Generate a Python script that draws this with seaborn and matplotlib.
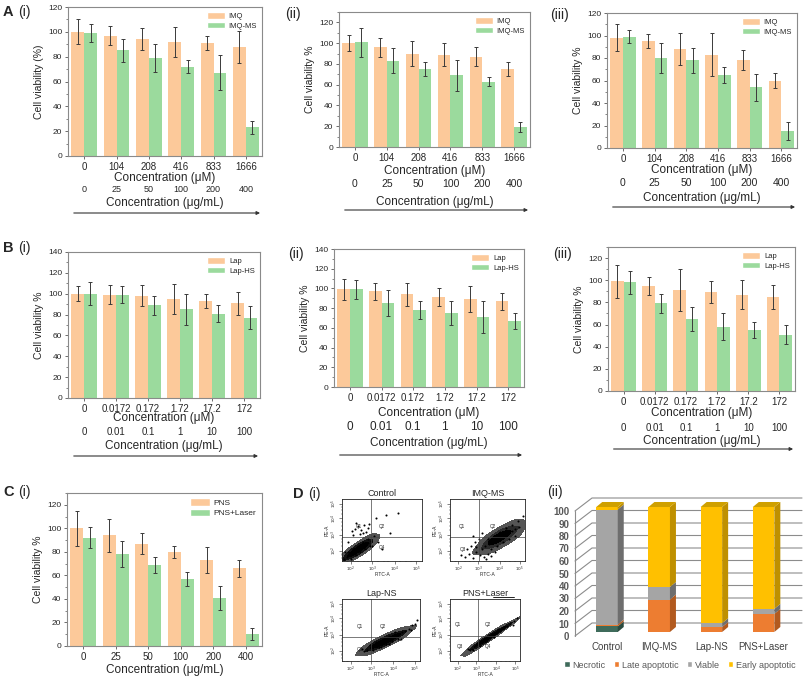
import numpy as np
import pandas as pd
import matplotlib
matplotlib.use("Agg")
import matplotlib.pyplot as plt
import seaborn as sns
from matplotlib.patches import Patch, Polygon
from matplotlib.ticker import AutoMinorLocator
from matplotlib.colors import ListedColormap

# ---------------- data ----------------
A_um = ['0', '104', '208', '416', '833', '1666']
A_ug = ['0', '25', '50', '100', '200', '400']
A1_imq = [100, 97, 94, 92, 91, 88]
A1_imq_err = [10, 7.5, 9, 12, 6, 13]
A1_ms = [99, 85, 79, 72, 67, 23]
A1_ms_err = [7, 9, 11, 5, 14, 5]
A2_imq = [100, 96, 90, 89, 87, 75]
A2_imq_err = [7.5, 9, 12, 11, 9, 7]
A2_ms = [101, 83, 75, 69, 63, 19]
A2_ms_err = [14, 12, 7, 15, 4, 5]
A3_imq = [98, 95, 88, 83, 78, 60]
A3_imq_err = [12, 6.5, 14.5, 19, 9, 7]
A3_ms = [99, 80, 78, 65, 54, 15]
A3_ms_err = [6, 13, 11, 7, 12, 8]

B_um = ['0', '0.0172', '0.172', '1.72', '17.2', '172']
B_ug = ['0', '0.01', '0.1', '1', '10', '100']
B1_lap = [100, 99, 98, 95, 93, 91]
B1_lap_err = [7, 9, 10, 14, 7, 11]
B1_hs = [100, 99, 89, 85, 81, 77]
B1_hs_err = [11, 8, 9, 15, 8.5, 11]
B2_lap = [99, 97, 94, 91, 89, 87]
B2_lap_err = [11, 9, 12, 9, 13, 8.5]
B2_hs = [99, 85, 78, 75, 71, 67]
B2_hs_err = [9.5, 13, 9, 12, 16, 8]
B3_lap = [99, 95, 91, 89, 87, 85]
B3_lap_err = [15, 8, 19, 10, 13, 11]
B3_hs = [98, 79, 65, 58, 55, 51]
B3_hs_err = [10, 9, 11, 12, 7, 9]

C_ug = ['0', '25', '50', '100', '200', '400']
C_pns = [100, 94, 87, 80, 73, 66]
C_pns_err = [15, 14, 9, 5, 11, 7]
C_laser = [92, 78, 69, 57, 41, 10]
C_laser_err = [9, 11, 7, 6, 10, 5]

# flow cytometry clouds (axis fractions)
ctrl_dense_x = [0.03, 0.06, 0.09, 0.12, 0.15, 0.18, 0.21, 0.24, 0.27, 0.30, 0.33, 0.36,
                0.08, 0.14, 0.20, 0.26, 0.32, 0.11, 0.17, 0.23, 0.29, 0.35]
ctrl_dense_y = [0.04, 0.06, 0.09, 0.12, 0.14, 0.17, 0.19, 0.22, 0.24, 0.27, 0.29, 0.32,
                0.15, 0.20, 0.25, 0.30, 0.36, 0.04, 0.09, 0.14, 0.19, 0.24]
ctrl_sparse_x = [0.12, 0.16, 0.20, 0.24, 0.28, 0.32, 0.18, 0.26, 0.30, 0.14, 0.22, 0.34,
                 0.40, 0.45, 0.50, 0.60, 0.42, 0.55, 0.70, 0.38, 0.08, 0.04]
ctrl_sparse_y = [0.48, 0.52, 0.56, 0.50, 0.58, 0.53, 0.62, 0.45, 0.47, 0.42, 0.44, 0.60,
                 0.40, 0.30, 0.20, 0.45, 0.70, 0.75, 0.78, 0.25, 0.30, 0.15]
imq_dense_x = [0.42, 0.47, 0.52, 0.57, 0.62, 0.67, 0.72, 0.77, 0.82, 0.87, 0.92,
               0.50, 0.58, 0.66, 0.74, 0.82, 0.54, 0.62, 0.70, 0.78, 0.86,
               0.60, 0.65, 0.70, 0.68, 0.63]
imq_dense_y = [0.20, 0.24, 0.27, 0.31, 0.34, 0.38, 0.41, 0.45, 0.48, 0.52, 0.55,
               0.36, 0.41, 0.47, 0.53, 0.58, 0.19, 0.24, 0.30, 0.35, 0.41,
               0.35, 0.38, 0.42, 0.36, 0.40]
imq_sparse_x = [0.20, 0.25, 0.30, 0.35, 0.40, 0.45, 0.28, 0.33, 0.38, 0.50, 0.55, 0.60,
                0.22, 0.30, 0.42, 0.48, 0.15, 0.97, 0.90, 0.35]
imq_sparse_y = [0.07, 0.12, 0.05, 0.15, 0.10, 0.06, 0.25, 0.30, 0.35, 0.12, 0.08, 0.15,
                0.20, 0.40, 0.45, 0.03, 0.10, 0.72, 0.65, 0.22]
lap_dense_x = [0.32, 0.37, 0.42, 0.47, 0.52, 0.57, 0.62, 0.67, 0.72, 0.77, 0.81,
               0.36, 0.44, 0.52, 0.60, 0.68, 0.40, 0.48, 0.56, 0.64, 0.72]
lap_dense_y = [0.18, 0.21, 0.24, 0.27, 0.30, 0.33, 0.36, 0.39, 0.42, 0.46, 0.48,
               0.26, 0.31, 0.36, 0.41, 0.46, 0.17, 0.22, 0.27, 0.32, 0.36]
lap_sparse_x = [0.86, 0.90, 0.96, 0.88, 0.28, 0.25, 0.50, 0.60, 0.75, 0.93]
lap_sparse_y = [0.52, 0.58, 0.66, 0.50, 0.16, 0.20, 0.22, 0.28, 0.36, 0.60]
pns_dense_x = [0.31, 0.36, 0.41, 0.46, 0.51, 0.56, 0.61, 0.66, 0.71, 0.76, 0.81, 0.86,
               0.38, 0.48, 0.58, 0.68, 0.33, 0.43, 0.53, 0.63]
pns_dense_y = [0.20, 0.24, 0.27, 0.31, 0.34, 0.38, 0.42, 0.45, 0.49, 0.52, 0.56, 0.60,
               0.29, 0.36, 0.43, 0.51, 0.17, 0.25, 0.32, 0.39]
pns_sparse_x = [0.92, 0.95, 0.28, 0.25, 0.90, 0.50]
pns_sparse_y = [0.64, 0.70, 0.17, 0.20, 0.58, 0.30]

# apoptosis stacked bars
D_groups = ['Control', 'IMQ-MS', 'Lap-NS', 'PNS+Laser']
D_necrotic = [4.5, 0, 0, 0]
D_late = [1.5, 26, 4, 14.5]
D_viable = [92, 10, 3, 4]
D_early = [2, 64, 93, 81.5]
D_labels = ['Necrotic', 'Late apoptotic', 'Viable', 'Early apoptotic']

# ---------------- style ----------------
sns.set_style("ticks")
plt.rcParams['font.family'] = ['Liberation Sans', 'DejaVu Sans']
plt.rcParams['mathtext.fontset'] = 'dejavusans'

ORANGE = '#FCC99A'
GREEN = '#9BDA9D'
W, H = 805, 680
fig = plt.figure(figsize=(W / 100, H / 100), dpi=100)


def px(box):
    l, t, r, b = box
    return [l / W, 1 - b / H, (r - l) / W, (b - t) / H]


def bar_panel(box, cats, v1, e1, v2, e2, names, ymax, ytop, ylabel,
              ug=None, um_off=22, num_off=34, ug_off=47, arr_off=57,
              num_fs=7, xlabel=None, leg_fs=5.5):
    l, t, r, b = box
    hpx = b - t
    ax = fig.add_axes(px(box))
    n = len(cats)
    df = pd.DataFrame({'cat': cats + cats,
                       'grp': [names[0]] * n + [names[1]] * n,
                       'val': v1 + v2})
    sns.barplot(data=df, x='cat', y='val', hue='grp', order=cats, hue_order=names,
                palette=[ORANGE, GREEN], saturation=1, errorbar=None, width=0.8,
                ax=ax, legend=False, linewidth=0)
    for cont, err in zip(ax.containers, (e1, e2)):
        xs = [p.get_x() + p.get_width() / 2 for p in cont]
        hs = [p.get_height() for p in cont]
        ax.errorbar(xs, hs, yerr=err, fmt='none', ecolor='#3a3a3a',
                    elinewidth=0.7, capsize=1.5, capthick=0.7, zorder=5)
    ax.set_xlim(-0.5, n - 0.5)
    ax.set_ylim(0, ymax)
    ax.set_yticks(list(range(0, ytop + 1, 20)))
    ax.yaxis.set_minor_locator(AutoMinorLocator(2))
    ax.set_xlabel('')
    ax.set_ylabel(ylabel, fontsize=7.5, labelpad=3)
    ax.tick_params(axis='y', labelsize=6, length=2.5, width=0.6, pad=1.5, color='#555')
    ax.tick_params(axis='y', which='minor', length=1.5, width=0.5, color='#555')
    ax.tick_params(axis='x', labelsize=7, length=2.5, width=0.6, pad=1.5, color='#555')
    for s in ax.spines.values():
        s.set_color('#8a8a8a')
        s.set_linewidth(0.8)
    handles = [Patch(facecolor=ORANGE, label=names[0]),
               Patch(facecolor=GREEN, label=names[1])]
    ax.legend(handles=handles, loc='upper right', frameon=False, fontsize=leg_fs,
              handlelength=2.4, handleheight=1.0, labelspacing=0.2,
              borderaxespad=0.25, handletextpad=0.5)
    tr = ax.get_xaxis_transform()
    if xlabel is not None:
        ax.text((n - 1) / 2, -xlabel / hpx, 'Concentration (μg/mL)', transform=tr,
                ha='center', va='center', fontsize=8.5)
    else:
        ax.text((n - 1) / 2, -um_off / hpx, 'Concentration (μM)', transform=tr,
                ha='center', va='center', fontsize=8.5)
        for i, lab in enumerate(ug):
            ax.text(i, -num_off / hpx, lab, transform=tr, ha='center', va='center',
                    fontsize=num_fs)
        ax.text((n - 1) / 2, -ug_off / hpx, 'Concentration (μg/mL)', transform=tr,
                ha='center', va='center', fontsize=8.5)
        ax.annotate('', xy=(0.99, -arr_off / hpx), xytext=(0.03, -arr_off / hpx),
                    xycoords='axes fraction', textcoords='axes fraction',
                    arrowprops=dict(arrowstyle='-|>', lw=0.8, color='#333',
                                    mutation_scale=5, shrinkA=0, shrinkB=0))
    return ax


# ---- row A ----
bar_panel((68, 7, 262, 156), A_um, A1_imq, A1_imq_err, A1_ms, A1_ms_err,
          ['IMQ', 'IMQ-MS'], 120, 120, 'Cell viability (%)', ug=A_ug,
          um_off=22, num_off=34, ug_off=47, arr_off=57, num_fs=6.5)
bar_panel((339, 12, 530, 147), A_um, A2_imq, A2_imq_err, A2_ms, A2_ms_err,
          ['IMQ', 'IMQ-MS'], 130, 120, 'Cell viability %', ug=A_ug,
          um_off=24, num_off=37, ug_off=55, arr_off=63, num_fs=7.5)
bar_panel((607, 13, 797, 148), A_um, A3_imq, A3_imq_err, A3_ms, A3_ms_err,
          ['IMQ', 'IMQ-MS'], 120, 120, 'Cell viability %', ug=A_ug,
          um_off=22, num_off=35, ug_off=50, arr_off=59, num_fs=7.5)
# ---- row B ----
bar_panel((68, 252, 260, 398), B_um, B1_lap, B1_lap_err, B1_hs, B1_hs_err,
          ['Lap', 'Lap-HS'], 140, 140, 'Cell viability %', ug=B_ug,
          um_off=20, num_off=34, ug_off=48, arr_off=58, num_fs=7)
bar_panel((334, 249, 524, 387), B_um, B2_lap, B2_lap_err, B2_hs, B2_hs_err,
          ['Lap', 'Lap-HS'], 140, 140, 'Cell viability %', ug=B_ug,
          um_off=26, num_off=40, ug_off=56, arr_off=68, num_fs=8.5)
bar_panel((608, 247, 795, 391), B_um, B3_lap, B3_lap_err, B3_hs, B3_hs_err,
          ['Lap', 'Lap-HS'], 130, 120, 'Cell viability %', ug=B_ug,
          um_off=22, num_off=37, ug_off=50, arr_off=58, num_fs=7)
# ---- C ----
bar_panel((67, 493, 262, 646), C_ug, C_pns, C_pns_err, C_laser, C_laser_err,
          ['PNS', 'PNS+Laser'], 130, 120, 'Cell viability %', xlabel=24, leg_fs=6)

FLOW_CMAP = ListedColormap(['#555555', '#2a2a2a', '#111111', '#000000'])


# ---- D(i) flow cytometry ----
def flow_panel(box, title, dx, dy, sx, sy, qx, qy, qlabels, bw=1.2, underline=None):
    ax = fig.add_axes(px(box))
    sns.kdeplot(x=dx, y=dy, fill=True, cmap=FLOW_CMAP, levels=4, thresh=0.07,
                bw_adjust=bw, ax=ax)
    sns.scatterplot(x=dx + sx, y=dy + sy, s=2.2, color='black', linewidth=0, ax=ax)
    ax.axvline(qx, color='#444', lw=0.5)
    ax.axhline(qy, color='#444', lw=0.5)
    ax.set_xlim(0, 1)
    ax.set_ylim(0, 1)
    ax.set_xticks([0.11, 0.375, 0.66, 0.93])
    ax.set_xticklabels(['$10^2$', '$10^3$', '$10^4$', '$10^5$'])
    ax.set_yticks([0.16, 0.42, 0.69, 0.92])
    ax.set_yticklabels(['$10^2$', '$10^3$', '$10^4$', '$10^5$'], rotation=90, va='center')
    ax.set_xticks([0.03, 0.06, 0.08, 0.2, 0.27, 0.32, 0.45, 0.52, 0.58, 0.73, 0.8, 0.86], minor=True)
    ax.set_yticks([0.05, 0.09, 0.12, 0.24, 0.31, 0.36, 0.5, 0.57, 0.63, 0.76, 0.82, 0.87], minor=True)
    ax.tick_params(which='major', labelsize=3, length=2, width=0.4, pad=0.5)
    ax.tick_params(which='minor', length=1, width=0.3)
    ax.set_xlabel('FITC-A', fontsize=3.5, labelpad=-1)
    ax.set_ylabel('PE-A', fontsize=3.5, labelpad=0)
    for s in ax.spines.values():
        s.set_color('#222')
        s.set_linewidth(0.6)
    ax.set_title(title, fontsize=6.5, pad=2.5)
    for (lx, ly, txt) in qlabels:
        ax.text(lx, ly, txt, fontsize=3.3, ha='center', va='center', color='#222')
    if underline is not None:
        ax.plot(underline, [1.035, 1.035], transform=ax.transAxes, color='black',
                lw=0.6, clip_on=False)
    return ax


flow_panel((342, 499, 422, 561), 'Control', ctrl_dense_x, ctrl_dense_y,
           ctrl_sparse_x, ctrl_sparse_y, 0.36, 0.38,
           [(0.21, 0.55, 'Q1'), (0.5, 0.56, 'Q2'), (0.5, 0.22, 'Q4')], bw=1.3)
flow_panel((450, 499, 525, 561), 'IMQ-MS', imq_dense_x, imq_dense_y,
           imq_sparse_x, imq_sparse_y, 0.39, 0.38,
           [(0.16, 0.56, 'Q1'), (0.57, 0.56, 'Q2'), (0.17, 0.18, 'Q3')], bw=1.3)
flow_panel((342, 599, 420, 661), 'Lap-NS', lap_dense_x, lap_dense_y,
           lap_sparse_x, lap_sparse_y, 0.37, 0.39,
           [(0.23, 0.55, 'Q1'), (0.52, 0.55, 'Q2'), (0.23, 0.19, 'Q3')], bw=1.2)
flow_panel((450, 599, 520, 661), 'PNS+Laser', pns_dense_x, pns_dense_y,
           pns_sparse_x, pns_sparse_y, 0.40, 0.41,
           [(0.11, 0.59, 'Q1'), (0.54, 0.59, 'Q2'), (0.14, 0.23, 'Q3'), (0.54, 0.23, 'Q4')],
           bw=1.1, underline=[0.62, 0.92])

# ---- D(ii) pseudo-3D stacked bars ----
xl, xr = -0.613, 3.736
axd = fig.add_axes(px((575, 511, 802, 636)))
axd.set_xlim(xl, xr)
axd.set_ylim(0, 100)
ppx = (802 - 575) / (xr - xl)
ppy = 125 / 100
wall_dx, wall_dy = 17 / ppx, 13 / ppy
bar_dx, bar_dy = 6 / ppx, 5 / ppy
base = 4 / ppy
bw = 21.5 / ppx
for v in range(0, 101, 10):
    axd.plot([xl, xl + wall_dx, xr], [v, v + wall_dy, v + wall_dy], color='#8c8c8c',
             lw=0.8, clip_on=False, zorder=1)
axd.plot([xl, xl], [0, 100], color='#8c8c8c', lw=0.8, clip_on=False, zorder=1)

face = ['#3F6B5B', '#ED7D31', '#A5A5A5', '#FFC000']
side = ['#2B4A3F', '#B25A1F', '#6E6E6E', '#BF9000']
top_col = '#CFA000'
x = np.arange(len(D_groups))
bottoms = np.full(len(D_groups), base)
series = [D_necrotic, D_late, D_viable, D_early]
for vals, fc, sc in zip(series, face, side):
    vals = np.array(vals, dtype=float)
    axd.bar(x, vals, bottom=bottoms, width=bw, color=fc, linewidth=0, zorder=3,
            clip_on=False)
    for xi, b0, h in zip(x, bottoms, vals):
        if h <= 0:
            continue
        xe = xi + bw / 2
        axd.add_patch(Polygon([(xe, b0), (xe + bar_dx, b0 + bar_dy),
                               (xe + bar_dx, b0 + h + bar_dy), (xe, b0 + h)],
                              closed=True, facecolor=sc, linewidth=0, zorder=3,
                              clip_on=False))
    bottoms = bottoms + vals
for xi, tp in zip(x, bottoms):
    axd.add_patch(Polygon([(xi - bw / 2, tp), (xi + bw / 2, tp),
                           (xi + bw / 2 + bar_dx, tp + bar_dy), (xi - bw / 2 + bar_dx, tp + bar_dy)],
                          closed=True, facecolor=top_col, linewidth=0, zorder=3, clip_on=False))
axd.set_xticks(x)
axd.set_xticklabels([''] * len(D_groups))
xtr = axd.get_xaxis_transform()
for xi, lab in zip(x, D_groups):
    axd.text(xi, -11 / 125, lab, transform=xtr, ha='center', va='center',
             fontsize=7, color='#404040')
axd.set_yticks(range(0, 101, 10))
axd.set_yticklabels([str(v) for v in range(0, 101, 10)], fontsize=7,
                    fontweight='bold', color='#595959')
axd.tick_params(length=0, pad=4)
for s in axd.spines.values():
    s.set_visible(False)
dhandles = [Patch(facecolor=c, label=lab) for c, lab in zip(face, D_labels)]
fig.legend(handles=dhandles, loc='center', bbox_to_anchor=(680 / W, 1 - 665 / H), ncol=4,
           frameon=False, fontsize=6.5, handlelength=0.6, handleheight=0.6,
           handletextpad=0.3, columnspacing=0.9, labelcolor='#595959')


# ---- panel letters ----
def panel_label(xp, yp, letter, roman):
    if letter:
        fig.text(xp / W, 1 - yp / H, letter, fontsize=10.5, fontweight='bold',
                 ha='left', va='center')
        fig.text((xp + 15) / W, 1 - yp / H, roman, fontsize=10, ha='left', va='center')
    else:
        fig.text(xp / W, 1 - yp / H, roman, fontsize=10, ha='left', va='center')


panel_label(3, 12, 'A', '(i)')
panel_label(285, 14, None, '(ii)')
panel_label(550, 15, None, '(iii)')
panel_label(3, 248, 'B', '(i)')
panel_label(288, 254, None, '(ii)')
panel_label(553, 254, None, '(iii)')
panel_label(3, 492, 'C', '(i)')
panel_label(293, 494, 'D', '(i)')
panel_label(547, 492, None, '(ii)')

fig.savefig('out.png', dpi=100)
